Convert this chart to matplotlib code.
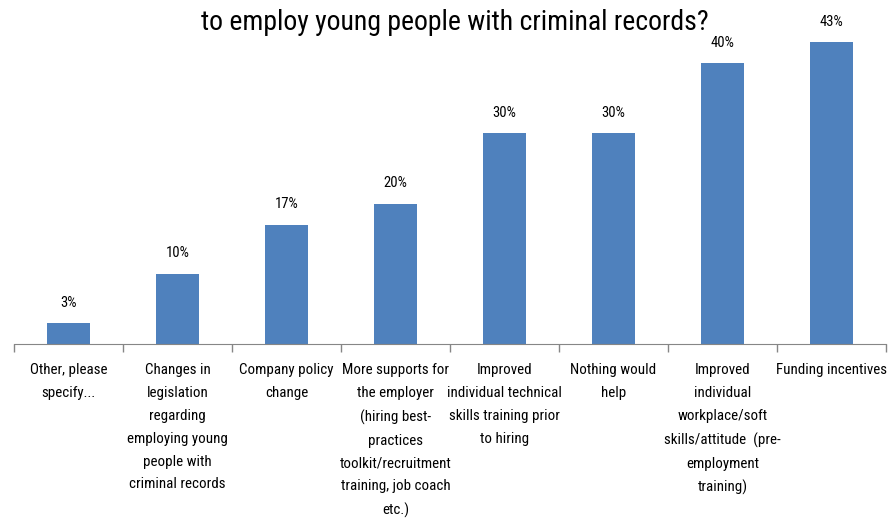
import matplotlib
matplotlib.use('Agg')
import matplotlib.pyplot as plt

# data
categories = [
    'Other, please\nspecify...',
    'Changes in\nlegislation\nregarding\nemploying young\npeople with\ncriminal records',
    'Company policy\nchange',
    'More supports for\nthe employer\n(hiring best-\npractices\ntoolkit/recruitment\ntraining, job coach\netc.)',
    'Improved\nindividual technical\nskills training prior\nto hiring',
    'Nothing would\nhelp',
    'Improved\nindividual\nworkplace/soft\nskills/attitude  (pre-\nemployment\ntraining)',
    'Funding incentives',
]
values = [3, 10, 17, 20, 30, 30, 40, 43]
title = 'to employ young people with criminal records?'

plt.rcParams['font.family'] = ['Roboto Condensed', 'DejaVu Sans']

fig = plt.figure(figsize=(8.91, 5.18), dpi=100)
ax = fig.add_axes([14 / 891, 174 / 518, 872 / 891, 344 / 518])

x = range(len(values))
ax.bar(x, values, width=0.4, color='#4F81BD')
for i, v in zip(x, values):
    ax.text(i, v + 1.9, f'{v}%', ha='center', va='bottom', fontsize=10.5)

ax.set_xlim(-0.5, len(values) - 0.5)
ax.set_ylim(0, 49)
ax.set_yticks([])
ax.set_xticks([i + 0.5 for i in range(-1, len(values))])
ax.set_xticklabels([])
ax.tick_params(axis='x', length=6, color='#868686', width=1)
for i, c in enumerate(categories):
    ax.text(i, -2.75, c, ha='center', va='top', fontsize=10.8, linespacing=1.8)

for s in ['left', 'right', 'top']:
    ax.spines[s].set_visible(False)
ax.spines['bottom'].set_color('#868686')

fig.text(0.51, (518 - 30) / 518, title, ha='center', va='baseline', fontsize=20)

fig.savefig('out.png', dpi=100)
